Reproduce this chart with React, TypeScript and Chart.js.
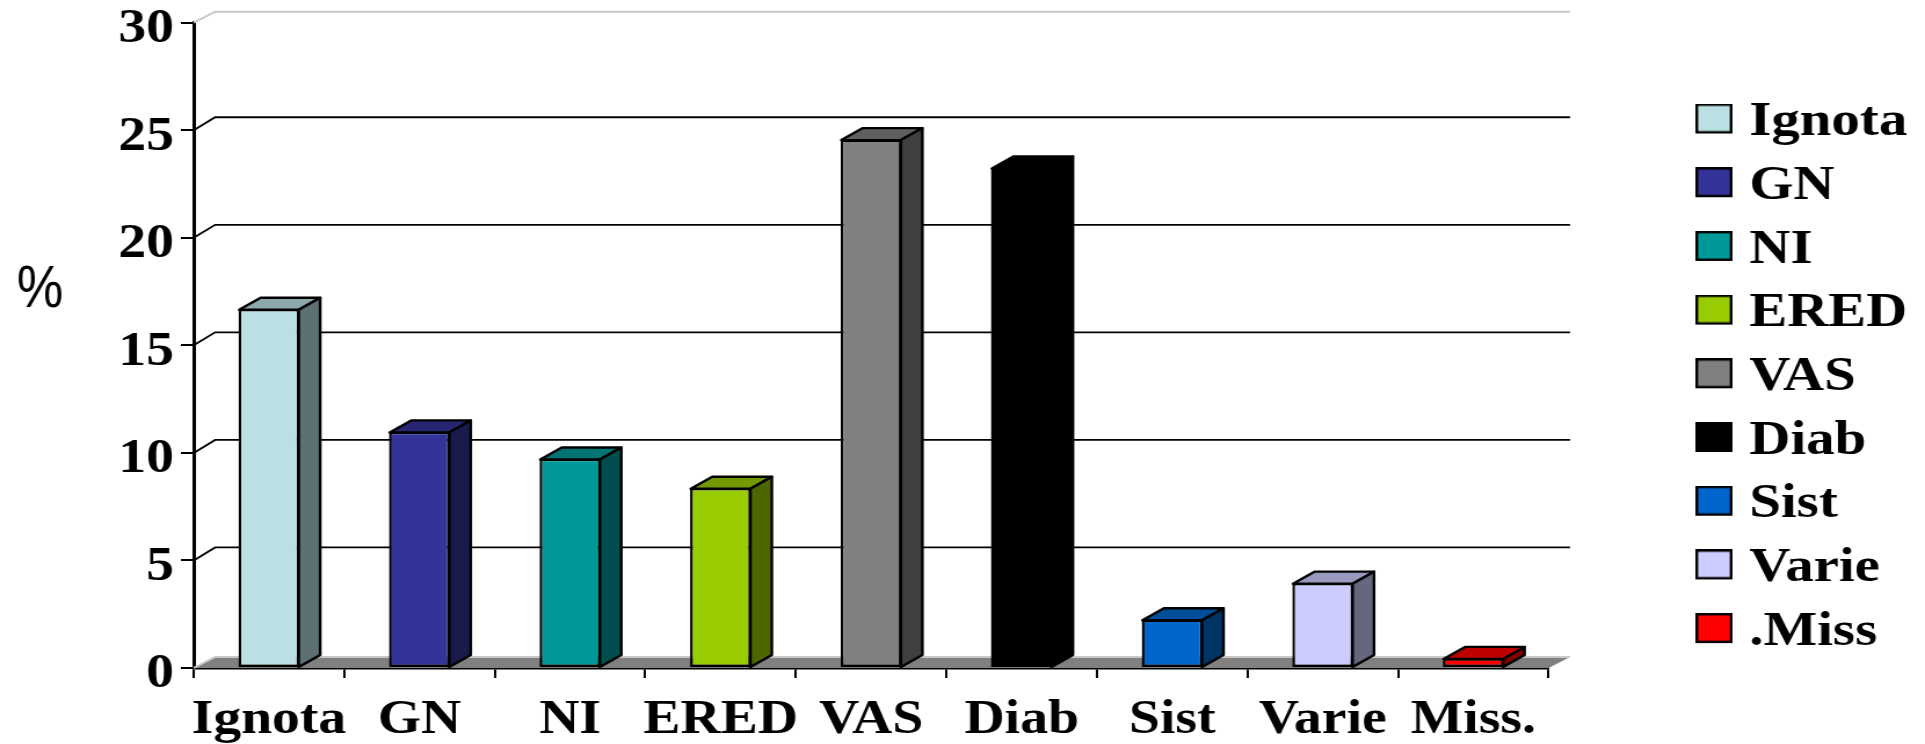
import React, { useEffect, useRef } from "react";
import { Chart, registerables } from "chart.js";

Chart.register(...registerables);

const categories = ["Ignota", "GN", "NI", "ERED", "VAS", "Diab", "Sist", "Varie", "Miss."];
const legendLabels = ["Ignota", "GN", "NI", "ERED", "VAS", "Diab", "Sist", "Varie", ".Miss"];
const values = [16.68, 10.98, 9.72, 8.36, 24.57, 23.25, 2.25, 3.95, 0.45];
const colors = ["#BAE0E3", "#333399", "#009999", "#99CC00", "#808080", "#000000", "#0066CC", "#CCCCFF", "#FF0000"];

const CANVAS_W = 1660;
const CANVAS_H = 744;
const STRETCH = 1925 / CANVAS_W;
const DX = 18.5;
const DY = 12;
const FONT = "'Liberation Serif', 'Times New Roman', serif";

function shade(hex: string, f: number) {
  const n = parseInt(hex.slice(1), 16);
  const r = Math.round(((n >> 16) & 255) * f);
  const g = Math.round(((n >> 8) & 255) * f);
  const b = Math.round((n & 255) * f);
  return `rgb(${r},${g},${b})`;
}

function swatch(color: string) {
  const c = document.createElement("canvas");
  c.width = 32;
  c.height = 38;
  const x = c.getContext("2d")!;
  x.fillStyle = color;
  x.fillRect(1, 1, 30, 28);
  x.strokeStyle = "#000";
  x.lineWidth = 2.4;
  x.strokeRect(1.2, 1.2, 29.6, 27.6);
  return c;
}

const wallPlugin = {
  id: "wall3d",
  beforeDatasetsDraw(chart: any) {
    const { ctx, scales } = chart;
    const y = scales.y;
    const { left, right } = chart.chartArea;
    const base = y.getPixelForValue(0);
    ctx.save();
    // floor
    ctx.fillStyle = "#808080";
    ctx.beginPath();
    ctx.moveTo(left, base);
    ctx.lineTo(left + DX, base - DY + 1);
    ctx.lineTo(right + DX, base - DY + 1);
    ctx.lineTo(right, base);
    ctx.closePath();
    ctx.fill();
    // wall lines
    y.ticks.forEach((t: any) => {
      const py = y.getPixelForValue(t.value);
      const isEdge = t.value === 0 || t.value === 30;
      ctx.strokeStyle = isEdge ? "#c8c8c8" : "#000";
      ctx.lineWidth = isEdge ? 2 : 1.8;
      ctx.beginPath();
      ctx.moveTo(left, py);
      ctx.lineTo(left + DX, py - DY - (isEdge ? -1 : 1));
      ctx.lineTo(right + DX, py - DY - (isEdge ? -1 : 1));
      ctx.stroke();
    });
    // bar top and side faces
    const meta = chart.getDatasetMeta(0);
    meta.data.forEach((bar: any, i: number) => {
      const p = bar.getProps(["x", "y", "base", "width"], true);
      const l = p.x - p.width / 2 + 0.6;
      const r = p.x + p.width / 2 - 0.6;
      const t = p.y + 0.6;
      const b = p.base;
      ctx.lineWidth = 2.4;
      ctx.lineJoin = "round";
      ctx.strokeStyle = "#000";
      ctx.fillStyle = shade(colors[i], 0.75);
      ctx.beginPath();
      ctx.moveTo(l, t);
      ctx.lineTo(l + DX, t - DY);
      ctx.lineTo(r + DX, t - DY);
      ctx.lineTo(r, t);
      ctx.closePath();
      ctx.fill();
      ctx.stroke();
      ctx.fillStyle = shade(colors[i], 0.5);
      ctx.beginPath();
      ctx.moveTo(r, t);
      ctx.lineTo(r + DX, t - DY);
      ctx.lineTo(r + DX, b - DY);
      ctx.lineTo(r, b);
      ctx.closePath();
      ctx.fill();
      ctx.stroke();
    });
    ctx.restore();
  },
  afterLayout(chart: any) {
    const lg = chart.legend;
    if (lg) {
      lg.left = 1457.3;
      lg.top = 83.3;
      lg.right = CANVAS_W;
      lg.bottom = CANVAS_H;
    }
  },
  afterDraw(chart: any) {
    const { ctx } = chart;
    ctx.save();
    ctx.translate(34.5, 290);
    ctx.scale(0.75, 1);
    ctx.fillStyle = "#000";
    ctx.font = "60px 'Liberation Sans', Arial, sans-serif";
    ctx.textAlign = "center";
    ctx.textBaseline = "middle";
    ctx.fillText("%", 0, 0);
    ctx.restore();
  },
};

export default function App() {
  const ref = useRef<HTMLCanvasElement>(null);
  useEffect(() => {
    const xFont = { family: FONT, size: 48, weight: "bold" as const, lineHeight: 0.9 };
    const yFont = { family: FONT, size: 48, weight: "bold" as const, lineHeight: 0.29 };
    const chart = new Chart(ref.current!, {
      type: "bar",
      data: {
        labels: categories,
        datasets: [
          {
            data: values,
            backgroundColor: colors,
            borderColor: "#000",
            borderWidth: (c: any) => (colors[c.dataIndex] === "#000000" ? 0 : 2.4),
            borderSkipped: false,
            categoryPercentage: 1,
            barPercentage: 0.405,
          },
        ],
      },
      plugins: [wallPlugin],
      options: {
        responsive: false,
        animation: false,
        events: [],
        layout: { padding: { left: 0, top: 22.7, right: CANVAS_W - 1335.4, bottom: 0 } },
        plugins: {
          tooltip: { enabled: false },
          title: { display: false },
          legend: {
            display: true,
            position: "chartArea",
            align: "start",
            labels: {
              color: "#000",
              font: { family: FONT, size: 49, weight: "bold", lineHeight: 1.2 },
              padding: 14.7,
              usePointStyle: true,
              pointStyleWidth: 12,
              boxHeight: 29,
              generateLabels: () =>
                legendLabels.map((text, i) => ({
                  text,
                  fillStyle: colors[i],
                  strokeStyle: "#000",
                  lineWidth: 0,
                  hidden: false,
                  index: i,
                  pointStyle: swatch(colors[i]),
                })),
            },
          },
        },
        scales: {
          x: {
            afterFit: (s: any) => {
              s.height = 76;
            },
            border: { color: "#000", width: 2.4 },
            grid: { drawOnChartArea: false, drawTicks: true, tickLength: 10, color: "#000", lineWidth: 2 },
            ticks: {
              color: "#000",
              font: xFont,
              autoSkip: false,
              maxRotation: 0,
              minRotation: 0,
              padding: 21,
            },
          },
          y: {
            min: 0,
            max: 30,
            afterFit: (s: any) => {
              s.width = 167;
            },
            border: { color: "#000", width: 3 },
            grid: { drawOnChartArea: false, drawTicks: true, tickLength: 11, color: "#000", lineWidth: 2 },
            ticks: {
              color: "#000",
              font: yFont,
              stepSize: 5,
              padding: 6,
              callback: (v: any) => ["", String(v)],
            },
          },
        },
      },
    } as any);
    return () => chart.destroy();
  }, []);
  return (
    <canvas
      ref={ref}
      width={CANVAS_W}
      height={CANVAS_H}
      style={{
        position: "absolute",
        left: 0,
        top: 0,
        display: "block",
        transformOrigin: "0 0",
        transform: `scaleX(${STRETCH})`,
      }}
    />
  );
}
